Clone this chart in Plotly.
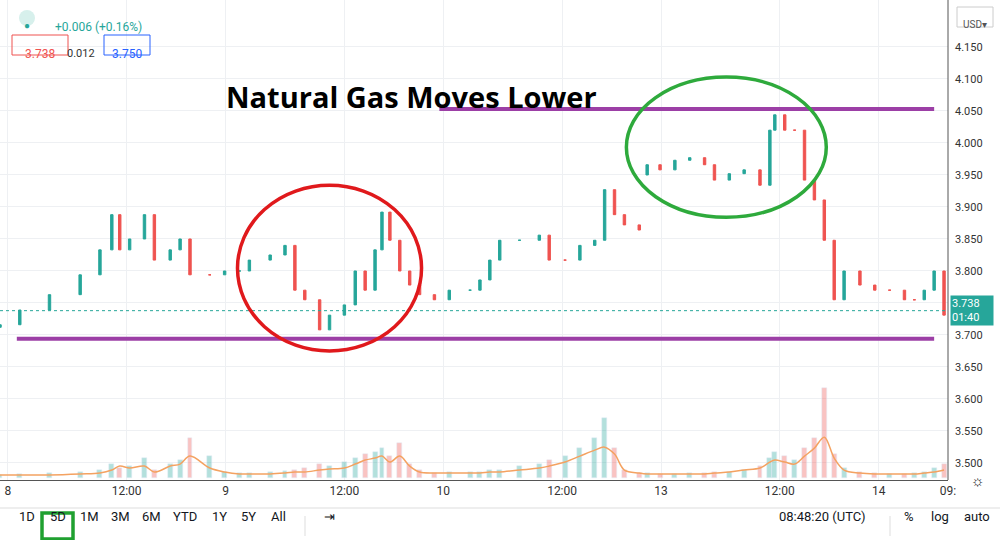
import plotly.graph_objects as go

# time in session-hours units, closing prices
t = [-0.8,1.2,4.2,7.3,9.3,10.5,11.3,12.3,13.8,14.8,16.4,17.4,18.4,20.4,21.9,23.4,24.4,26.5,28.0,29.0,30.0,31.5,32.5,34.0,35.1,36.1,37.1,37.8,38.6,39.6,40.6,41.6,43.1,44.6,46.7,47.7,48.7,49.7,51.7,53.7,54.7,56.3,57.8,59.3,60.3,61.3,62.3,63.8,64.6,65.9,67.4,68.9,70.4,71.4,72.9,74.4,76.0,77.0,77.5,78.5,79.5,80.5,81.5,82.5,83.5,84.5,86.1,87.6,89.1,90.6,91.6,92.6,93.6,94.6]
close = [3.716,3.739,3.763,3.794,3.833,3.888,3.833,3.850,3.888,3.817,3.833,3.850,3.794,3.794,3.800,3.800,3.817,3.825,3.840,3.770,3.755,3.708,3.731,3.747,3.800,3.770,3.833,3.892,3.848,3.800,3.778,3.763,3.755,3.770,3.770,3.786,3.817,3.848,3.848,3.856,3.817,3.817,3.840,3.848,3.927,3.888,3.872,3.864,3.966,3.958,3.973,3.977,3.966,3.942,3.952,3.958,3.934,4.020,4.044,4.020,4.020,3.942,3.911,3.848,3.755,3.800,3.778,3.770,3.770,3.755,3.755,3.770,3.800,3.731]
opens = [3.712] + close[:-1]
opens[48] = 3.950
volume = [3,4,5,6,8,14,10,12,20,8,14,18,40,22,6,5,5,6,7,8,10,14,12,16,20,24,26,30,22,35,14,8,5,6,6,6,8,8,12,14,18,22,30,40,60,30,8,5,5,4,4,5,5,6,6,8,12,20,26,22,18,30,40,90,24,10,6,5,4,4,5,6,10,14]
vol_ma = [3,3,3,4,5,8,12,10,12,6,12,14,22,10,6,4,4,4,5,6,6,8,9,10,14,18,20,22,16,22,12,6,5,5,5,5,6,6,8,10,12,16,22,28,31,24,8,5,4,4,4,4,4,5,6,8,10,16,18,16,14,22,30,41,20,8,5,4,4,4,4,5,6,8]
price_ticks = [3.500,3.550,3.600,3.650,3.700,3.750,3.800,3.850,3.900,3.950,4.000,4.050,4.100,4.150]
x_tick_pos = [0,12,22,34,44,56,66,78,88,95]
x_tick_txt = ["8","12:00","9","12:00","10","12:00","13","12:00","14","09:"]
last_price = 3.738

UP, DN = "#26a69a", "#ef5350"
W = 948.0
H = 480.0
def px(x): return x / W
def py(y): return 1 - y / H

fig = go.Figure()
vcol = ["rgba(38,166,154,0.35)" if c >= o else "rgba(239,83,80,0.35)" for o, c in zip(opens, close)]
fig.add_trace(go.Bar(x=t, y=volume, marker_color=vcol, width=0.5, yaxis="y2", hoverinfo="skip"))
fig.add_trace(go.Scatter(x=t, y=vol_ma, mode="lines", line=dict(color="#f4a261", width=1.5, shape="spline"), yaxis="y2"))
fig.add_trace(go.Candlestick(x=t, open=opens, close=close,
                             high=[max(o, c) for o, c in zip(opens, close)],
                             low=[min(o, c) for o, c in zip(opens, close)],
                             increasing=dict(line=dict(color=UP, width=1), fillcolor=UP),
                             decreasing=dict(line=dict(color=DN, width=1), fillcolor=DN),
                             whiskerwidth=0))

shapes = [
    dict(type="line", x0=-0.8, x1=95, y0=last_price, y1=last_price, line=dict(color="#26a69a", width=1, dash="dot")),
    dict(type="line", x0=43.6, x1=93.6, y0=4.053, y1=4.053, line=dict(color="#9c3fa6", width=4)),
    dict(type="line", x0=0.9, x1=93.6, y0=3.694, y1=3.694, line=dict(color="#9c3fa6", width=4)),
    dict(type="circle", x0=23.2, x1=41.8, y0=3.675, y1=3.934, line=dict(color="#e0191c", width=3.5)),
    dict(type="circle", x0=62.5, x1=82.7, y0=3.884, y1=4.103, line=dict(color="#2eaa3c", width=3.5)),
    dict(type="line", xref="paper", yref="paper", x0=1, x1=1, y0=0, y1=1, line=dict(color="#555", width=1)),
    dict(type="rect", xref="paper", yref="paper", x0=px(12), x1=px(68), y0=py(55), y1=py(35), line=dict(color="#ef5350", width=1)),
    dict(type="rect", xref="paper", yref="paper", x0=px(104), x1=px(150), y0=py(55), y1=py(35), line=dict(color="#2962ff", width=1)),
    dict(type="circle", xref="paper", yref="paper", x0=px(19), x1=px(35), y0=py(26), y1=py(10), fillcolor="#d7f0ec", line=dict(width=0)),
    dict(type="rect", xref="paper", yref="paper", x0=px(42), x1=px(73), y0=py(539), y1=py(513), line=dict(color="#1fa030", width=3.5)),
    dict(type="line", xref="paper", yref="paper", x0=0, x1=px(1000), y0=py(508), y1=py(508), line=dict(color="#ddd", width=1)),
    dict(type="line", xref="paper", yref="paper", x0=px(305), x1=px(305), y0=py(536), y1=py(516), line=dict(color="#ddd", width=1)),
    dict(type="line", xref="paper", yref="paper", x0=px(890), x1=px(890), y0=py(536), y1=py(516), line=dict(color="#ddd", width=1)),
    dict(type="rect", xref="paper", yref="paper", x0=px(957), x1=px(993), y0=py(27), y1=py(7), line=dict(color="#ccc", width=1)),
]
fig.update_layout(
    width=1000, height=540, margin=dict(l=0, r=52, t=0, b=60, autoexpand=False),
    plot_bgcolor="white", paper_bgcolor="white", showlegend=False,
    font=dict(family="Roboto", color="#131722", size=12),
    xaxis=dict(range=[-0.8, 95], tickvals=x_tick_pos, ticktext=x_tick_txt, showgrid=True,
               gridcolor="#eef0f3", zeroline=False, rangeslider=dict(visible=False),
               showline=True, linecolor="#555", ticks="", tickfont=dict(size=12, color="#333")),
    yaxis=dict(range=[3.4734, 4.2234], side="right", tickvals=price_ticks,
               ticktext=[f"{v:.3f}" for v in price_ticks], gridcolor="#eef0f3",
               zeroline=False, tickfont=dict(size=11, color="#333"), ticklabelstandoff=6),
    yaxis2=dict(range=[-2, 480], overlaying="y", visible=False),
    shapes=shapes, bargap=0,
)
ann = [
    dict(x=px(411), y=py(75), text="<b>Natural Gas Moves Lower</b>", font=dict(size=29, family="Open Sans", color="black")),
    dict(x=px(53), y=py(18), text="+0.006 (+0.16%)", font=dict(size=12, color="#26a69a"), xanchor="left"),
    dict(x=px(40), y=py(45), text="3.738", font=dict(size=12, color="#ef5350")),
    dict(x=px(81), y=py(45), text="0.012", font=dict(size=11, color="#333")),
    dict(x=px(127), y=py(45), text="3.750", font=dict(size=12, color="#2962ff")),
    dict(x=px(27), y=py(18), text="●", font=dict(size=10, color="#26a69a")),
    dict(x=px(975), y=py(17), text="USD▾", font=dict(size=10, color="#555")),
]
bottom = [("1D", 27), ("5D", 58), ("1M", 89), ("3M", 120), ("6M", 151), ("YTD", 185), ("1Y", 219), ("5Y", 248), ("All", 278),
          ("⇥", 329), ("08:48:20 (UTC)", 822), ("%", 909), ("log", 940), ("auto", 977)]
for txt, x in bottom:
    ann.append(dict(x=px(x), y=py(526), text=txt, font=dict(size=13, color="#131722")))
ann.append(dict(x=px(978), y=py(492), text="☼", font=dict(size=15, color="#131722")))
for a in ann:
    a.update(xref="paper", yref="paper", showarrow=False)
    a.setdefault("xanchor", "center")
fig.update_layout(annotations=ann)
fig.add_annotation(xref="paper", yref="y", x=1.002, y=last_price, xanchor="left", showarrow=False,
                   text="3.738<br>01:40", bgcolor="#26a69a", font=dict(color="white", size=11), align="left",
                   width=40)
fig.write_html("out.html", config={"displayModeBar": False},
               post_script="document.body.style.margin='0';document.body.style.overflow='hidden';")
